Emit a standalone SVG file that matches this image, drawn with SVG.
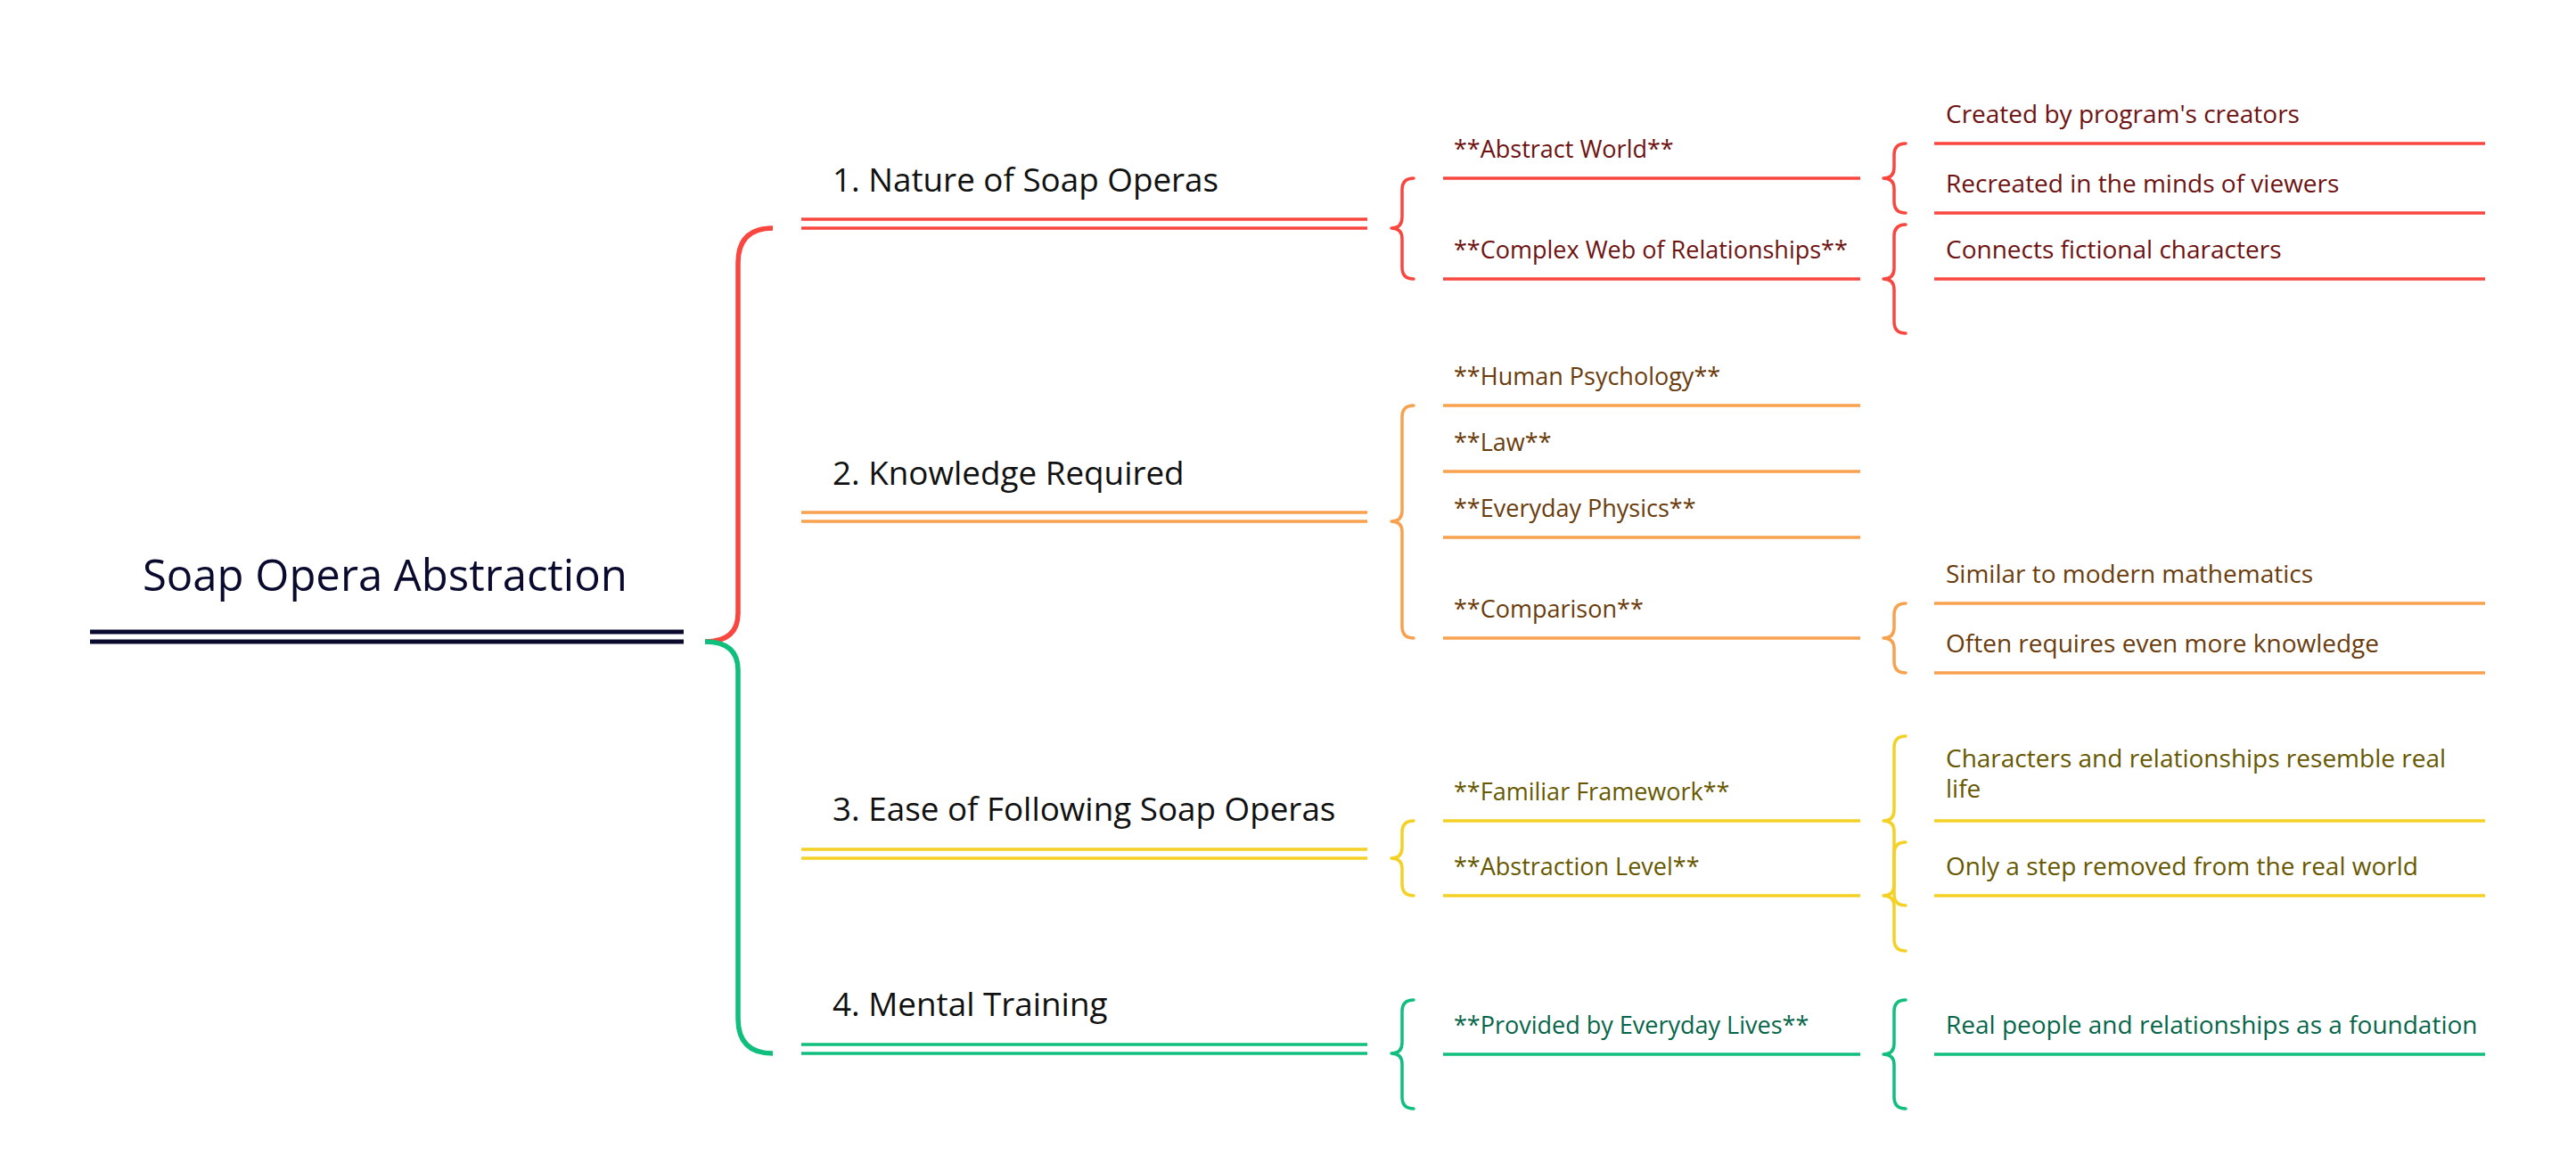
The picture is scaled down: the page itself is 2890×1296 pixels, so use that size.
<svg xmlns="http://www.w3.org/2000/svg" width="2890" height="1296" viewBox="0 0 2890 1296">
<style>
text{font-family:"Open Sans","Noto Sans","Liberation Sans",sans-serif;}
.root{font-size:49px;fill:#0a0a2e;}
.l1{font-size:36.8px;fill:#111;}
.l2{font-size:27px;}
.l3{font-size:28px;}
.br{fill:none;stroke-linecap:round;stroke-linejoin:round;stroke-width:3.5;}
.ln{stroke-width:3.5;}
.red{stroke:#f9463f;} .ora{stroke:#f8a14e;} .yel{stroke:#f4d125;} .grn{stroke:#10be7e;}
.tr{fill:#6e1212;} .to{fill:#6b3c0c;} .ty{fill:#675800;} .tg{fill:#06664a;}
</style>
<rect width="2890" height="1296" fill="#ffffff"/>
<g id="connectors">
  <path d="M 867 256 Q 828 256 828 295 L 828 688 Q 828 720 791 720" fill="none" stroke="#f9463f" stroke-width="5.5"/>
  <path d="M 791 720 Q 828 720 828 752 L 828 1143 Q 828 1182 867 1182" fill="none" stroke="#10be7e" stroke-width="5.5"/>
  <path class="br red" d="M 1586 200 Q 1573 200 1573 213 L 1573 244 Q 1573 256 1561 256 Q 1573 256 1573 268 L 1573 300 Q 1573 313 1586 313"/>
  <path class="br ora" d="M 1586 455 Q 1573 455 1573 468 L 1573 573 Q 1573 585 1561 585 Q 1573 585 1573 597 L 1573 703 Q 1573 716 1586 716"/>
  <path class="br yel" d="M 1586 921 Q 1573 921 1573 934 L 1573 951 Q 1573 963 1561 963 Q 1573 963 1573 975 L 1573 992 Q 1573 1005 1586 1005"/>
  <path class="br grn" d="M 1586 1122 Q 1573 1122 1573 1135 L 1573 1170 Q 1573 1182 1561 1182 Q 1573 1182 1573 1194 L 1573 1231 Q 1573 1244 1586 1244"/>
  <path class="br red" d="M 2138 161 Q 2125 161 2125 174 L 2125 188 Q 2125 200 2113 200 Q 2125 200 2125 212 L 2125 226 Q 2125 239 2138 239"/>
  <path class="br red" d="M 2138 252 Q 2125 252 2125 265 L 2125 301 Q 2125 313 2113 313 Q 2125 313 2125 325 L 2125 361 Q 2125 374 2138 374"/>
  <path class="br ora" d="M 2138 677 Q 2125 677 2125 690 L 2125 704 Q 2125 716 2113 716 Q 2125 716 2125 728 L 2125 742 Q 2125 755 2138 755"/>
  <path class="br yel" d="M 2138 826 Q 2125 826 2125 839 L 2125 909 Q 2125 921 2113 921 Q 2125 921 2125 933 L 2125 1003 Q 2125 1016 2138 1016"/>
  <path class="br yel" d="M 2138 945 Q 2125 945 2125 958 L 2125 993 Q 2125 1005 2113 1005 Q 2125 1005 2125 1017 L 2125 1054 Q 2125 1067 2138 1067"/>
  <path class="br grn" d="M 2138 1122 Q 2125 1122 2125 1135 L 2125 1171 Q 2125 1183 2113 1183 Q 2125 1183 2125 1195 L 2125 1231 Q 2125 1244 2138 1244"/>
</g>
<g id="root">
  <text class="root" x="160" y="663">Soap Opera Abstraction</text>
  <line x1="101" y1="709" x2="767" y2="709" stroke="#0a0a2e" stroke-width="5"/>
  <line x1="101" y1="720" x2="767" y2="720" stroke="#0a0a2e" stroke-width="5"/>
</g>
<g id="b1">
  <text class="l1" x="934" y="215">1. Nature of Soap Operas</text>
  <line class="ln red" x1="899" y1="246" x2="1534" y2="246"/>
  <line class="ln red" x1="899" y1="256" x2="1534" y2="256"/>
</g>
<g id="b2">
  <text class="l1" x="934" y="544">2. Knowledge Required</text>
  <line class="ln ora" x1="899" y1="575" x2="1534" y2="575"/>
  <line class="ln ora" x1="899" y1="585" x2="1534" y2="585"/>
</g>
<g id="b3">
  <text class="l1" x="934" y="921">3. Ease of Following Soap Operas</text>
  <line class="ln yel" x1="899" y1="953" x2="1534" y2="953"/>
  <line class="ln yel" x1="899" y1="963" x2="1534" y2="963"/>
</g>
<g id="b4">
  <text class="l1" x="934" y="1140">4. Mental Training</text>
  <line class="ln grn" x1="899" y1="1172" x2="1534" y2="1172"/>
  <line class="ln grn" x1="899" y1="1182" x2="1534" y2="1182"/>
</g>
<g id="n-abstract-world"><text class="l2 tr" x="1631" y="177">**Abstract World**</text><line class="ln red" x1="1619" y1="200" x2="2087" y2="200"/></g>
<g id="n-complex-web"><text class="l2 tr" x="1631" y="290">**Complex Web of Relationships**</text><line class="ln red" x1="1619" y1="313" x2="2087" y2="313"/></g>
<g id="n-human-psychology"><text class="l2 to" x="1631" y="432">**Human Psychology**</text><line class="ln ora" x1="1619" y1="455" x2="2087" y2="455"/></g>
<g id="n-law"><text class="l2 to" x="1631" y="506">**Law**</text><line class="ln ora" x1="1619" y1="529" x2="2087" y2="529"/></g>
<g id="n-everyday-physics"><text class="l2 to" x="1631" y="580">**Everyday Physics**</text><line class="ln ora" x1="1619" y1="603" x2="2087" y2="603"/></g>
<g id="n-comparison"><text class="l2 to" x="1631" y="693">**Comparison**</text><line class="ln ora" x1="1619" y1="716" x2="2087" y2="716"/></g>
<g id="n-familiar-framework"><text class="l2 ty" x="1631" y="898">**Familiar Framework**</text><line class="ln yel" x1="1619" y1="921" x2="2087" y2="921"/></g>
<g id="n-abstraction-level"><text class="l2 ty" x="1631" y="982">**Abstraction Level**</text><line class="ln yel" x1="1619" y1="1005" x2="2087" y2="1005"/></g>
<g id="n-provided"><text class="l2 tg" x="1631" y="1160">**Provided by Everyday Lives**</text><line class="ln grn" x1="1619" y1="1183" x2="2087" y2="1183"/></g>
<g id="n-created"><text class="l3 tr" x="2183" y="138">Created by program's creators</text><line class="ln red" x1="2170" y1="161" x2="2788" y2="161"/></g>
<g id="n-recreated"><text class="l3 tr" x="2183" y="216">Recreated in the minds of viewers</text><line class="ln red" x1="2170" y1="239" x2="2788" y2="239"/></g>
<g id="n-connects"><text class="l3 tr" x="2183" y="290">Connects fictional characters</text><line class="ln red" x1="2170" y1="313" x2="2788" y2="313"/></g>
<g id="n-similar"><text class="l3 to" x="2183" y="654">Similar to modern mathematics</text><line class="ln ora" x1="2170" y1="677" x2="2788" y2="677"/></g>
<g id="n-often"><text class="l3 to" x="2183" y="732">Often requires even more knowledge</text><line class="ln ora" x1="2170" y1="755" x2="2788" y2="755"/></g>
<g id="n-characters"><text class="l3 ty" x="2183" y="861">Characters and relationships resemble real</text><text class="l3 ty" x="2183" y="895">life</text><line class="ln yel" x1="2170" y1="921" x2="2788" y2="921"/></g>
<g id="n-only"><text class="l3 ty" x="2183" y="982">Only a step removed from the real world</text><line class="ln yel" x1="2170" y1="1005" x2="2788" y2="1005"/></g>
<g id="n-real"><text class="l3 tg" x="2183" y="1160">Real people and relationships as a foundation</text><line class="ln grn" x1="2170" y1="1183" x2="2788" y2="1183"/></g>
</svg>
